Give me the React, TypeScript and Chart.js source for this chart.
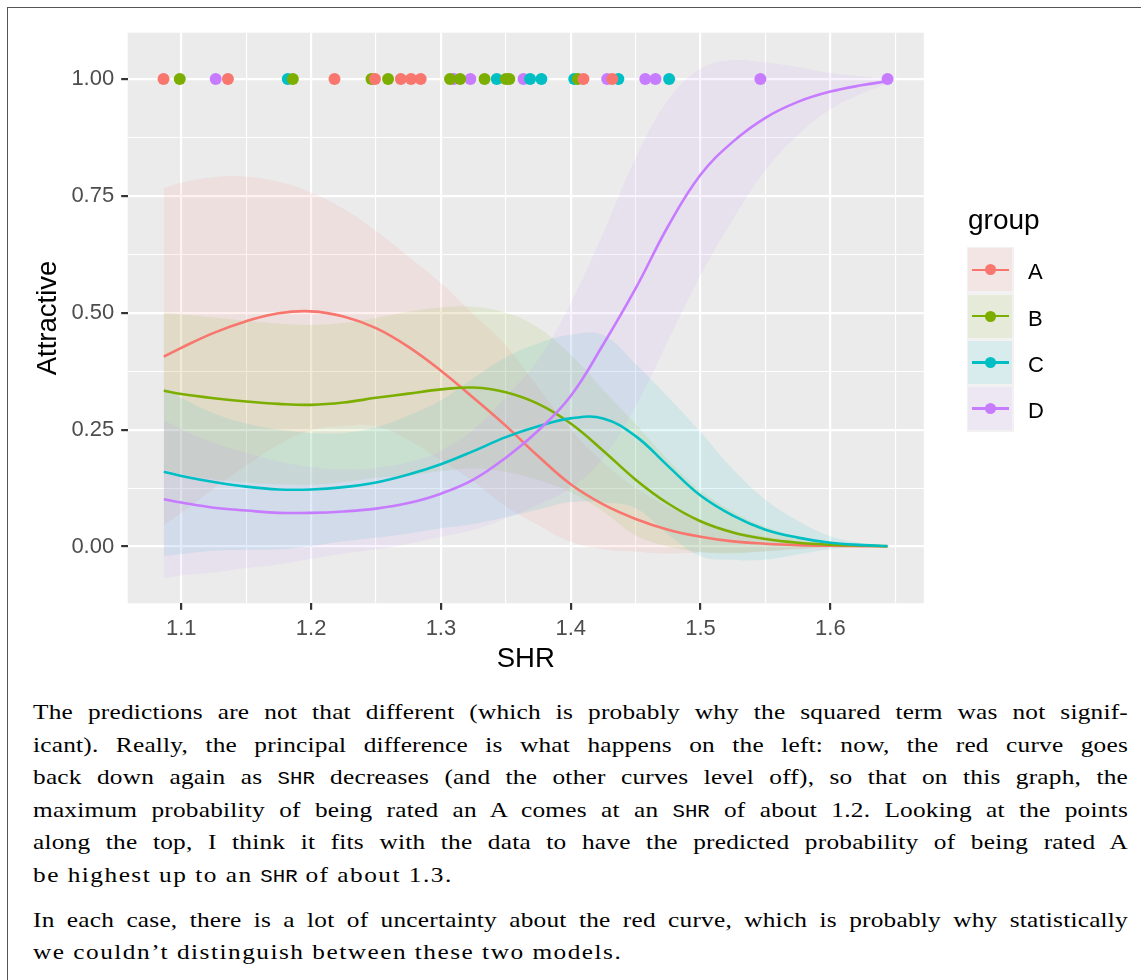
import React, { useEffect, useRef } from 'react';
import { Chart, registerables } from 'chart.js';

Chart.register(...registerables);

// ---------------- data ----------------
const GROUPS = ['A', 'B', 'C', 'D'];

const SHR_GRID = [1.0865, 1.1, 1.125, 1.15, 1.175, 1.2, 1.225, 1.25, 1.275, 1.3, 1.325, 1.35,
  1.375, 1.4, 1.425, 1.45, 1.475, 1.5, 1.525, 1.55, 1.575, 1.6, 1.625, 1.644];

const FIT_A = [0.406, 0.425, 0.457, 0.482, 0.499, 0.503, 0.492, 0.467, 0.427, 0.376, 0.318, 0.258,
  0.193, 0.133, 0.090, 0.059, 0.036, 0.021, 0.011, 0.006, 0.003, 0.0015, 0.0007, 0.0003];
const UPPER_A = [0.766, 0.778, 0.790, 0.791, 0.780, 0.757, 0.722, 0.675, 0.620, 0.563, 0.497, 0.430,
  0.340, 0.250, 0.180, 0.125, 0.085, 0.055, 0.035, 0.022, 0.012, 0.006, 0.002, 0.0006];
const LOWER_A = [0.046, 0.072, 0.124, 0.173, 0.218, 0.249, 0.258, 0.257, 0.228, 0.185, 0.139, 0.086,
  0.046, 0.010, -0.006, -0.011, -0.015, -0.013, -0.013, -0.010, -0.006, -0.003, -0.0006, 0.0];

const FIT_B = [0.333, 0.326, 0.317, 0.310, 0.305, 0.303, 0.308, 0.318, 0.327, 0.336, 0.340, 0.330,
  0.305, 0.263, 0.205, 0.143, 0.092, 0.054, 0.030, 0.016, 0.008, 0.004, 0.002, 0.0005];
const UPPER_B = [0.500, 0.497, 0.490, 0.483, 0.477, 0.474, 0.478, 0.489, 0.502, 0.511, 0.513, 0.500,
  0.468, 0.410, 0.335, 0.262, 0.185, 0.120, 0.075, 0.042, 0.021, 0.009, 0.003, 0.001];
const LOWER_B = [0.166, 0.155, 0.144, 0.137, 0.133, 0.132, 0.138, 0.147, 0.152, 0.161, 0.167, 0.160,
  0.142, 0.116, 0.075, 0.024, 0.000, -0.012, -0.015, -0.010, -0.005, -0.001, 0.001, 0.0];

const FIT_C = [0.160, 0.151, 0.138, 0.128, 0.122, 0.122, 0.127, 0.137, 0.154, 0.176, 0.204, 0.234,
  0.257, 0.274, 0.274, 0.236, 0.172, 0.109, 0.066, 0.036, 0.019, 0.008, 0.003, 0.0008];
const UPPER_C = [0.340, 0.318, 0.285, 0.263, 0.250, 0.243, 0.243, 0.255, 0.280, 0.313, 0.360, 0.405,
  0.435, 0.453, 0.452, 0.390, 0.320, 0.245, 0.165, 0.100, 0.055, 0.022, 0.007, 0.001];
const LOWER_C = [-0.020, -0.016, -0.009, -0.007, -0.006, 0.001, 0.011, 0.019, 0.028, 0.039, 0.048, 0.063,
  0.079, 0.095, 0.094, 0.082, 0.026, -0.021, -0.029, -0.028, -0.017, -0.006, -0.001, 0.0];

const FIT_D = [0.101, 0.094, 0.083, 0.077, 0.072, 0.072, 0.075, 0.081, 0.093, 0.113, 0.143, 0.190,
  0.248, 0.322, 0.432, 0.552, 0.685, 0.795, 0.866, 0.917, 0.951, 0.973, 0.987, 0.995];
const UPPER_D = [0.270, 0.250, 0.222, 0.200, 0.182, 0.170, 0.165, 0.168, 0.180, 0.205, 0.250, 0.320,
  0.400, 0.520, 0.670, 0.830, 0.955, 1.022, 1.040, 1.035, 1.025, 1.013, 1.005, 1.000];
const LOWER_D = [-0.068, -0.062, -0.055, -0.046, -0.038, -0.026, -0.015, -0.006, 0.006, 0.021, 0.036, 0.060,
  0.090, 0.125, 0.190, 0.300, 0.440, 0.580, 0.700, 0.805, 0.880, 0.935, 0.970, 0.990];

// observed SHR values of the people rated "attractive" (plotted along the top)
const OBS_A = [1.0863, 1.1359, 1.2180, 1.2492, 1.2691, 1.2770, 1.2844, 1.4098, 1.4320];
const OBS_B = [1.0988, 1.1859, 1.2465, 1.2593, 1.3070, 1.3148, 1.3336, 1.3500, 1.3527, 1.4055];
const OBS_C = [1.1820, 1.3430, 1.3687, 1.3774, 1.4027, 1.4367, 1.4758];
const OBS_D = [1.1265, 1.3101, 1.3227, 1.3636, 1.4281, 1.4574, 1.4653, 1.5461, 1.6441];
const OBS_ATTRACTIVE = 1;

const X_MAJOR = [1.1, 1.2, 1.3, 1.4, 1.5, 1.6];
const X_MINOR = [1.15, 1.25, 1.35, 1.45, 1.55, 1.65];
const Y_MAJOR = [0, 0.25, 0.5, 0.75, 1];
const Y_MINOR = [0.125, 0.375, 0.625, 0.875];

const X_LIMITS = [1.0587, 1.672];
const Y_LIMITS = [-0.1215, 1.099];

// ---------------- styling ----------------
const COLORS = ['#F8766D', '#7CAE00', '#00BFC4', '#C77CFF'];
const RIBBON_RGBA = ['rgba(248,118,109,0.1)', 'rgba(124,174,0,0.1)', 'rgba(0,191,196,0.1)', 'rgba(199,124,255,0.1)'];
const SANS = '"Liberation Sans", Arial, Helvetica, sans-serif';

const FITS = [FIT_A, FIT_B, FIT_C, FIT_D];
const UPPERS = [UPPER_A, UPPER_B, UPPER_C, UPPER_D];
const LOWERS = [LOWER_A, LOWER_B, LOWER_C, LOWER_D];
const OBS = [OBS_A, OBS_B, OBS_C, OBS_D];

const isIn = (list: number[], v: number) => list.some((m) => Math.abs(m - v) < 1e-9);

const panelBg = {
  id: 'panelBg',
  beforeDraw(chart: any) {
    const { ctx, chartArea: a } = chart;
    ctx.save();
    ctx.fillStyle = '#EBEBEB';
    ctx.fillRect(a.left, a.top, a.right - a.left, a.bottom - a.top);
    ctx.restore();
  },
};

function buildDatasets() {
  const ds: any[] = [];
  // points (top)
  GROUPS.forEach((g, i) => {
    ds.push({
      type: 'scatter',
      label: g + ' observed',
      data: OBS[i].map((x) => ({ x, y: OBS_ATTRACTIVE })),
      backgroundColor: COLORS[i],
      borderWidth: 0,
      pointRadius: 6,
      pointHoverRadius: 6,
      order: i,
    });
  });
  // fitted lines
  GROUPS.forEach((g, i) => {
    ds.push({
      type: 'line',
      label: g,
      data: SHR_GRID.map((x, j) => ({ x, y: FITS[i][j] })),
      borderColor: COLORS[i],
      borderWidth: 2.6,
      pointRadius: 0,
      tension: 0.4,
      fill: false,
      order: 10 - i,
    });
  });
  // ribbons (upper filled to lower)
  GROUPS.forEach((g, i) => {
    ds.push({
      type: 'line',
      label: g + ' upper',
      data: SHR_GRID.map((x, j) => ({ x, y: UPPERS[i][j] })),
      borderColor: 'rgba(0,0,0,0)',
      borderWidth: 0,
      pointRadius: 0,
      tension: 0.4,
      backgroundColor: RIBBON_RGBA[i],
      fill: '+1',
      order: 30 - 2 * i,
    });
    ds.push({
      type: 'line',
      label: g + ' lower',
      data: SHR_GRID.map((x, j) => ({ x, y: LOWERS[i][j] })),
      borderColor: 'rgba(0,0,0,0)',
      borderWidth: 0,
      pointRadius: 0,
      tension: 0.4,
      fill: false,
      order: 29 - 2 * i,
    });
  });
  return ds;
}

function ChartCanvas() {
  const ref = useRef<HTMLCanvasElement | null>(null);
  useEffect(() => {
    if (!ref.current) return;
    const tickFont = { family: SANS, size: 22 };
    const titleFont = { family: SANS, size: 27.5 };
    const chart = new Chart(ref.current, {
      type: 'line',
      data: { datasets: buildDatasets() },
      options: {
        responsive: false,
        maintainAspectRatio: false,
        animation: false,
        events: [],
        layout: { padding: { left: 20, right: 217.2, top: 32.7, bottom: 10 } },
        plugins: { legend: { display: false }, tooltip: { enabled: false } },
        scales: {
          x: {
            type: 'linear',
            min: X_LIMITS[0],
            max: X_LIMITS[1],
            afterBuildTicks: (s: any) => {
              s.ticks = [...X_MAJOR, ...X_MINOR].sort((a, b) => a - b).map((v) => ({ value: v }));
            },
            afterFit: (s: any) => { s.height = 76.7; },
            ticks: {
              autoSkip: false,
              maxRotation: 0,
              padding: 6,
              color: '#4D4D4D',
              font: tickFont,
              callback: (v: any) => (isIn(X_MAJOR, Number(v)) ? Number(v).toFixed(1) : ''),
            },
            grid: {
              color: '#FFFFFF',
              lineWidth: (c: any) => (c.tick && isIn(X_MAJOR, c.tick.value) ? 2.2 : 1.1),
              drawTicks: true,
              tickLength: 6.5,
              tickWidth: 2.2,
              tickColor: (c: any) => (c.tick && isIn(X_MAJOR, c.tick.value) ? '#333333' : 'rgba(0,0,0,0)'),
            },
            border: { display: false },
            title: { display: true, text: 'SHR', color: '#000000', font: titleFont, padding: { top: 0, bottom: 4 } },
          },
          y: {
            type: 'linear',
            min: Y_LIMITS[0],
            max: Y_LIMITS[1],
            afterBuildTicks: (s: any) => {
              s.ticks = [...Y_MAJOR, ...Y_MINOR].sort((a, b) => a - b).map((v) => ({ value: v }));
            },
            afterFit: (s: any) => { s.width = 107.7; },
            ticks: {
              autoSkip: false,
              padding: 7,
              color: '#4D4D4D',
              font: tickFont,
              callback: (v: any) => (isIn(Y_MAJOR, Number(v)) ? Number(v).toFixed(2) : ''),
            },
            grid: {
              color: '#FFFFFF',
              lineWidth: (c: any) => (c.tick && isIn(Y_MAJOR, c.tick.value) ? 2.2 : 1.1),
              drawTicks: true,
              tickLength: 6.5,
              tickWidth: 2.2,
              tickColor: (c: any) => (c.tick && isIn(Y_MAJOR, c.tick.value) ? '#333333' : 'rgba(0,0,0,0)'),
            },
            border: { display: false },
            title: { display: true, text: 'Attractive', color: '#000000', font: titleFont, padding: { top: 12, bottom: 0 } },
          },
        },
      } as any,
      plugins: [panelBg],
    });
    return () => chart.destroy();
  }, []);
  return (
    <canvas
      ref={ref}
      width={1141}
      height={690}
      style={{ position: 'absolute', left: 0, top: 0, width: 1141, height: 690 }}
    />
  );
}

function Legend() {
  const keyTops = [246.7, 293, 339.3, 385.6];
  return (
    <div style={{ position: 'absolute', left: 0, top: 0 }}>
      <div style={{ position: 'absolute', left: 968, top: 205.6, fontFamily: SANS, fontSize: 28, lineHeight: '28px', color: '#000', whiteSpace: 'nowrap' }}>group</div>
      {GROUPS.map((g, i) => (
        <React.Fragment key={g}>
          <div style={{ position: 'absolute', left: 966.7, top: keyTops[i], width: 47.3, height: 46.3, background: '#F2F2F2' }}>
            <div style={{ position: 'absolute', left: 1.7, top: 1.7, right: 1.7, bottom: 1.7, background: RIBBON_RGBA[i] }} />
            <div style={{ position: 'absolute', left: 5, right: 5, top: 23.15 - 1.3, height: 2.6, background: COLORS[i] }} />
            <div style={{ position: 'absolute', left: 23.65 - 5.6, top: 23.15 - 5.6, width: 11.2, height: 11.2, borderRadius: '50%', background: COLORS[i] }} />
          </div>
          <div style={{ position: 'absolute', left: 1028, top: keyTops[i] + 14.7, fontFamily: SANS, fontSize: 22, lineHeight: '22px', color: '#000' }}>{g}</div>
        </React.Fragment>
      ))}
    </div>
  );
}

const TT: React.CSSProperties = { fontFamily: '"Liberation Mono", "DejaVu Sans Mono", monospace', fontSize: 18, letterSpacing: 0 };
const SCALE_X = 1.15;
const TEXT_W = 1095;

function Text() {
  const just: React.CSSProperties = { textAlign: 'justify', textAlignLast: 'justify' as any, height: 32.5 };
  const left: React.CSSProperties = { textAlign: 'left', height: 32.5, letterSpacing: 1.3 };
  return (
    <div style={{
      position: 'absolute', left: 33, top: 696, width: TEXT_W / SCALE_X,
      transform: `scaleX(${SCALE_X})`, transformOrigin: '0 0',
      fontFamily: '"Liberation Serif", "Times New Roman", serif', fontSize: 22, lineHeight: '32.5px', letterSpacing: 0.2, color: '#000',
    }}>
      <div style={just}>The predictions are not that different (which is probably why the squared term was not signif-</div>
      <div style={just}>icant). Really, the principal difference is what happens on the left: now, the red curve goes</div>
      <div style={just}>back down again as <span style={TT}>SHR</span> decreases (and the other curves level off), so that on this graph, the</div>
      <div style={just}>maximum probability of being rated an A comes at an <span style={TT}>SHR</span> of about 1.2. Looking at the points</div>
      <div style={just}>along the top, I think it fits with the data to have the predicted probability of being rated A</div>
      <div style={left}>be highest up to an <span style={TT}>SHR</span> of about 1.3.</div>
      <div style={{ height: 12.5 }} />
      <div style={just}>In each case, there is a lot of uncertainty about the red curve, which is probably why statistically</div>
      <div style={left}>we couldn’t distinguish between these two models.</div>
    </div>
  );
}

export default function App() {
  return (
    <div style={{ position: 'absolute', left: 0, top: 0, width: 1141, height: 980, overflow: 'hidden', background: '#fff' }}>
      <div style={{ position: 'absolute', left: 7, top: 7, width: 1150, height: 1000, border: '1px solid #555', boxSizing: 'border-box' }} />
      <ChartCanvas />
      <Legend />
      <Text />
    </div>
  );
}
